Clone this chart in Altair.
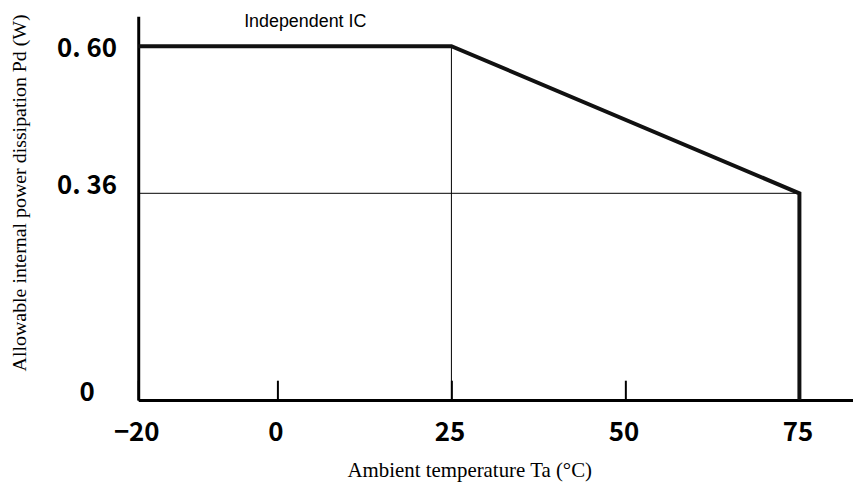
import altair as alt
import pandas as pd

# ---- data ----
temp = [-20, 25, 75, 75]          # Ta (°C)
power = [0.60, 0.60, 0.36, 0.0]   # Pd (W)

x_ticks = [-20, 0, 25, 50, 75]
y_ticks = [0, 0.36, 0.60]

vline_x = [25]
vline_y0 = [0.0]
vline_y1 = [0.60]

hline_y = [0.36]
hline_x0 = [-20]
hline_x1 = [75]

annot_text = ["Independent IC"]
annot_x = [4]
annot_y = [0.640]

# ---- tables ----
curve = pd.DataFrame({"Ta": temp, "Pd": power, "i": list(range(len(temp)))})
vdf = pd.DataFrame({"Ta": vline_x, "Pd": vline_y0, "Pd2": vline_y1})
hdf = pd.DataFrame({"Pd": hline_y, "Ta": hline_x0, "Ta2": hline_x1})
adf = pd.DataFrame({"t": annot_text, "Ta": annot_x, "Pd": annot_y})

W, H = 719, 386

xs = alt.Scale(domain=[-20, 82.7], nice=False, zero=False)
ys = alt.Scale(domain=[0, 0.36, 0.60, 0.65], range=[386, 178, 30, 0], nice=False, zero=False)

x_axis = alt.Axis(
    values=x_ticks,
    title="Ambient temperature Ta (°C)",
    grid=False,
    domainWidth=3, domainColor="black",
    tickSize={"expr": "-20"}, tickWidth=2, tickColor="black",
    labelFont="Noto Sans CJK JP", labelFontSize=26, labelFontWeight="bold",
    labelColor="black", labelBaseline="middle", labelPadding=53,
    labelFlush=False, labelOffset=-2,
    titleFont="Liberation Serif", titleFontSize=21, titleFontWeight="normal",
    titleColor="black", titleX=333, titleY=71, titleBaseline="middle",
    titleAlign="center",
)

y_axis = alt.Axis(
    values=y_ticks,
    labelExpr="datum.value == 0 ? '0' : replace(format(datum.value, '.2f'), '.', '. ')",
    title="Allowable internal power dissipation Pd (W)",
    grid=False, ticks=False,
    domainWidth=3, domainColor="black",
    labelFont="Noto Sans CJK JP", labelFontSize=26, labelFontWeight="bold",
    labelColor="black", labelAlign="center", labelBaseline="middle",
    labelPadding=52, labelFlush=False,
    labelOffset={"condition": {"test": "datum.value == 0.6", "value": 2}, "value": -8},
    titleFont="Liberation Serif", titleFontSize=20, titleFontWeight="normal",
    titleColor="black", titleX=-119, titleY=177, titleAngle=270,
    titleAlign="center", titleBaseline="middle",
)

X = lambda f: alt.X(f"{f}:Q", scale=xs, axis=x_axis)
Y = lambda f: alt.Y(f"{f}:Q", scale=ys, axis=y_axis)

vrule = alt.Chart(vdf).mark_rule(color="black", strokeWidth=1).encode(
    x=X("Ta"), y=Y("Pd"), y2="Pd2:Q"
)
hrule = alt.Chart(hdf).mark_rule(color="black", strokeWidth=1).encode(
    y=Y("Pd"), x=X("Ta"), x2="Ta2:Q"
)
line = alt.Chart(curve).mark_line(color="#111111", strokeWidth=4, strokeJoin="miter").encode(
    x=X("Ta"), y=Y("Pd"), order="i:Q"
)
label = alt.Chart(adf).mark_text(
    font="Liberation Sans", fontSize=18, color="black", align="center", baseline="middle"
).encode(x=X("Ta"), y=Y("Pd"), text="t:N")

chart = (
    alt.layer(vrule, hrule, line, label)
    .properties(
        width=W, height=H,
        autosize=alt.AutoSizeParams(type="none"),
        padding={"left": 131, "top": 7, "right": 0, "bottom": 83},
        background="white",
    )
    .configure_view(stroke=None)
)

chart.save("out.html", embed_options={"renderer": "svg", "actions": False})
